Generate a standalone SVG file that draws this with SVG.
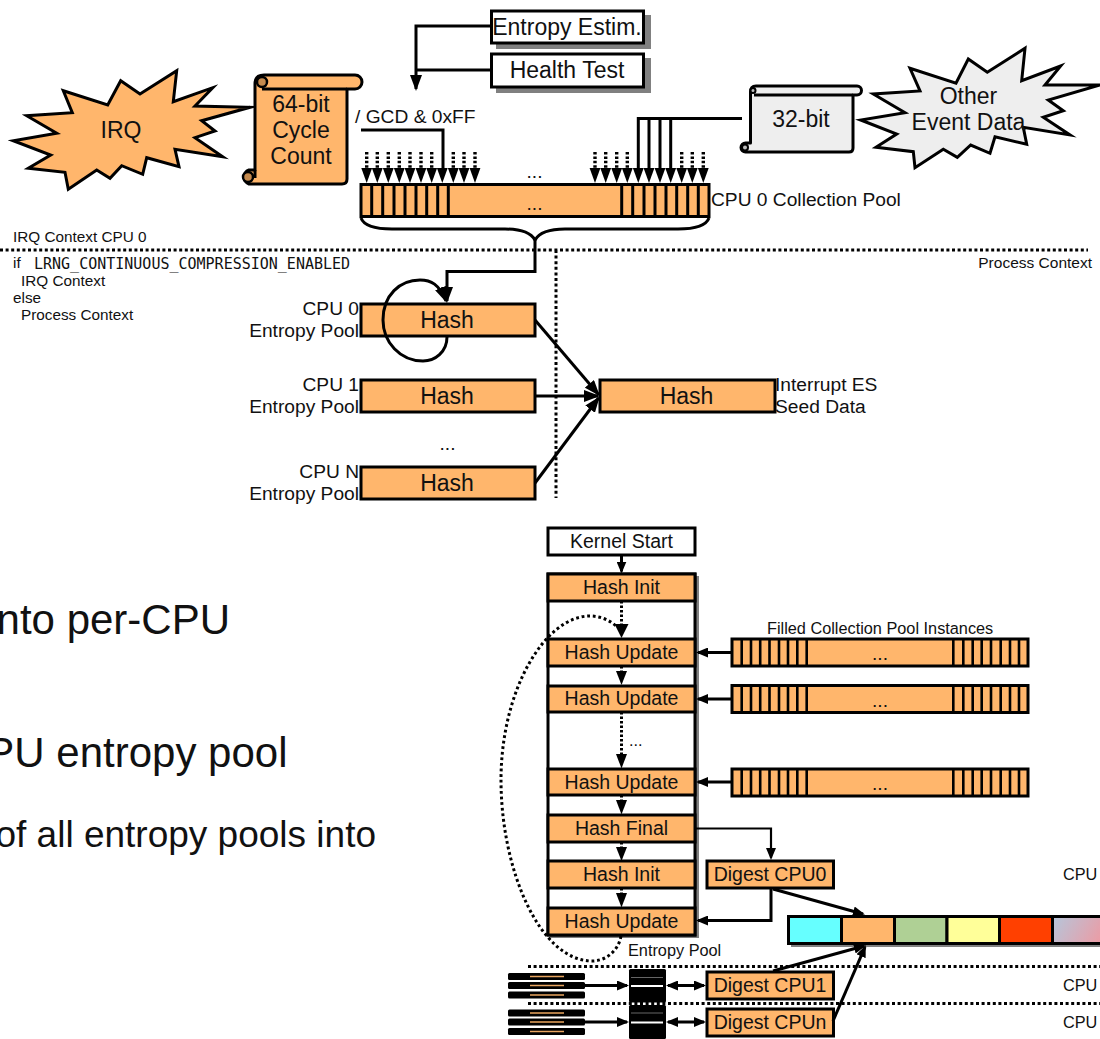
<svg xmlns="http://www.w3.org/2000/svg" xmlns:xlink="http://www.w3.org/1999/xlink" width="1100" height="1039" viewBox="0 0 1100 1039">
<style>
text{font-family:"Liberation Sans",Arial,sans-serif;fill:#111}
.c{text-anchor:middle}.r{text-anchor:end}
.s22{font-size:23px}.s19{font-size:19.200px}.s193{font-size:19.500px}.s16{font-size:16.300px}.s15{font-size:15.300px}
.mono{font-family:"DejaVu Sans Mono","Liberation Mono",monospace;font-size:15px}
.big{font-size:42px}
.o{fill:#ffb66c;stroke:#000;stroke-width:3}
.w{fill:#fff;stroke:#000;stroke-width:3}
.g{fill:#eee;stroke:#000;stroke-width:3;stroke-linejoin:round}
.star{stroke-linejoin:miter;stroke-miterlimit:10}
.sh{fill:#808080}
.l{fill:none;stroke:#000;stroke-width:3;stroke-linejoin:miter}
.l2{fill:none;stroke:#000;stroke-width:2.200}
.dot{fill:none;stroke:#000;stroke-width:3;stroke-dasharray:3 2.600}
.dsm{fill:none;stroke:#000;stroke-width:3.400;stroke-dasharray:2.500 1.900}
.chip{fill:#000}
.ol{stroke:#e9a55f;stroke-width:1.600}
</style>
<defs>
<marker id="a" markerUnits="userSpaceOnUse" markerWidth="12" markerHeight="10" refX="10" refY="5" orient="auto" viewBox="0 0 12 10"><path d="M0 0L12 5L0 10Z"/></marker>
<marker id="b" markerUnits="userSpaceOnUse" markerWidth="12" markerHeight="10" refX="10" refY="5" orient="auto-start-reverse" viewBox="0 0 12 10"><path d="M0 0L12 5L0 10Z"/></marker>
<marker id="ab" markerUnits="userSpaceOnUse" markerWidth="16" markerHeight="12" refX="14" refY="6" orient="auto" viewBox="0 0 16 12"><path d="M0 0L16 6L0 12Z"/></marker>
<polygon id="tri" points="-5.400,0 5.400,0 0,15"/>
<linearGradient id="grad" gradientUnits="userSpaceOnUse" x1="1052" y1="916" x2="1100" y2="944"><stop offset="0" stop-color="#b4c7dc"/><stop offset="1" stop-color="#ec9ba4"/></linearGradient>
<g id="strip">
<rect class="o" x="732" y="0" width="296" height="27"/>
<path class="l" style="stroke-width:2.600" d="M741.700 0v27M751 0v27M760.200 0v27M769.500 0v27M779 0v27M788 0v27M797.300 0v27M806.700 0v27M953.300 0v27M963.300 0v27M972.700 0v27M981.700 0v27M991 0v27M1000.700 0v27M1010 0v27M1019 0v27"/>
<text class="c s19" x="880" y="21">...</text>
</g>
<g id="chips">
<rect class="chip" x="508" y="0" width="77" height="7" rx="1.500"/><rect class="chip" x="508" y="9" width="77" height="7" rx="1.500"/><rect class="chip" x="508" y="18.500" width="77" height="7" rx="1.500"/>
<path class="ol" d="M530 3.500H564M530 12.500H564M530 22H564"/>
</g>
</defs>

<g id="big-text">
<text class="big r" x="230" y="634">nto per-CPU</text>
<text class="big r" x="287.500" y="767">PU entropy pool</text>
<text class="r" style="font-size:37px" x="376" y="847">of all entropy pools into</text>
</g>

<g id="context-labels">
<text class="s15" x="13" y="242">IRQ Context CPU 0</text>
<text class="s15" x="13" y="268">if</text>
<text class="mono" x="34" y="268.500">LRNG_CONTINUOUS_COMPRESSION_ENABLED</text>
<text class="s15" x="21" y="286">IRQ Context</text>
<text class="s15" x="13" y="303">else</text>
<text class="s15" x="21" y="320">Process Context</text>
<text class="s15 r" x="1092" y="268" style="font-size:15.500px">Process Context</text>
</g>

<g id="irq">
<polygon class="o star" points="176.700,70.700 173.300,101.700 212.700,87.700 195,106 250,107.300 201.700,120.700 215,131 195,137.700 222.700,156.700 175,149.300 179,166.700 146.700,157.700 142.700,174.300 121.700,165.700 110,178.300 96.700,170 68.300,189.300 65,172.300 28.300,168.300 50.700,155 13.300,140.700 56.700,133.300 26.700,115.700 72.300,112.700 63.300,90.700 107.700,105 120.700,80.700 140,94"/>
<text class="c s22" x="121" y="138">IRQ</text>
</g>
<g id="cycle-count">
<path class="o" stroke-linejoin="round" d="M264 75H355A7 7 0 0 1 355 89H347V179Q347 184 342 184H249A7.500 7.500 0 0 1 249 170H255V84Q255 75 264 75Z"/>
<path class="l" d="M262 89H347M255 170V178"/>
<circle cx="262" cy="82" r="5" fill="#c58a4e" stroke="#000" stroke-width="2.500"/>
<circle cx="248" cy="177" r="5" fill="#c58a4e" stroke="#000" stroke-width="2.500"/>
<text class="c s22" x="301" y="112">64-bit</text>
<text class="c s22" x="301" y="138">Cycle</text>
<text class="c s22" x="301" y="164">Count</text>
</g>
<g id="entropy-estim">
<rect class="sh" x="496" y="15" width="155" height="34"/>
<rect class="w" x="491.500" y="11" width="152" height="32"/>
<text class="c s22" x="567" y="35">Entropy Estim.</text>
</g>
<g id="health-test">
<rect class="sh" x="496" y="58" width="155" height="35"/>
<rect class="w" x="491.500" y="54" width="152" height="33"/>
<text class="c s22" x="567" y="78">Health Test</text>
</g>
<g id="bit32">
<path class="g" d="M756 86H857A4.500 4.500 0 0 1 857 95H853V148Q853 152 849 152H745.500A4.500 4.500 0 0 1 745.500 143H750.500V92Q750.500 86 756 86Z"/>
<path class="l" d="M754 95H853"/>
<circle cx="753" cy="90.500" r="2.500" fill="#bbb" stroke="#000" stroke-width="2"/>
<circle cx="745" cy="147.500" r="3" fill="#bbb" stroke="#000" stroke-width="2"/>
<text class="c s22" x="801" y="127">32-bit</text>
</g>
<g id="other-event">
<polygon class="g star" points="1025,48.300 1021.700,80.700 1060.700,66 1045,85 1100,85 1048.300,100 1063.300,110.700 1043.300,117.300 1070,135 1023.300,127.300 1026.700,144.300 995,136.700 990,153.300 970.700,145 957.300,157.300 943.300,149.300 915,167.700 913.300,151.700 876,147.300 896.700,134 860.700,120 905,112.700 873.300,94 920,91 910,68.300 956,83.300 968.300,59 987.300,72.300"/>
<text class="c s22" x="968.500" y="104">Other</text>
<text class="c s22" x="968.500" y="130">Event Data</text>
</g>
<g id="collection-pool">
<rect class="o" x="361" y="184.500" width="348" height="32"/>
<path class="l" d="M371.700 184v33M382.700 184v33M394 184v33M405 184v33M416 184v33M426.700 184v33M437.700 184v33M448.300 184v33M621.700 184v33M632.700 184v33M644 184v33M655 184v33M666 184v33M676.700 184v33M687.700 184v33M698.300 184v33"/>
<text class="c s19" x="534.500" y="210">...</text>
<text class="c s19" x="534.500" y="178">...</text>
<text class="s19" x="711" y="206">CPU 0 Collection Pool</text>
<text class="s19" x="355" y="123">/ GCD &amp; 0xFF</text>
</g>

<g id="cpu0-pool">
<rect class="o" x="361" y="304" width="174" height="32"/>
<text class="c s22" x="447" y="328">Hash</text>
<text class="s19 r" x="359" y="315">CPU 0</text>
<text class="s19 r" x="359" y="337">Entropy Pool</text>
</g>
<g id="cpu1-pool">
<rect class="o" x="361" y="380" width="174" height="32"/>
<text class="c s22" x="447" y="404">Hash</text>
<text class="s19 r" x="359" y="391">CPU 1</text>
<text class="s19 r" x="359" y="413">Entropy Pool</text>
</g>
<text class="c s19" x="447.500" y="450">...</text>
<g id="cpun-pool">
<rect class="o" x="361" y="467" width="174" height="32"/>
<text class="c s22" x="447" y="491">Hash</text>
<text class="s19 r" x="359" y="478">CPU N</text>
<text class="s19 r" x="359" y="500">Entropy Pool</text>
</g>
<g id="final-hash">
<rect class="o" x="600" y="380" width="175" height="32"/>
<text class="c s22" x="686.500" y="404">Hash</text>
<text class="s19" x="775" y="391">Interrupt ES</text>
<text class="s19" x="775" y="413">Seed Data</text>
</g>

<g id="kernel-start">
<rect class="w" x="548" y="528" width="147" height="27"/>
<text class="c s193" x="621.500" y="548">Kernel Start</text>
</g>
<g id="hash-stack">
<rect class="sh" x="550" y="576" width="149" height="362"/>
<rect class="w" x="548" y="574" width="147" height="361"/>
<rect class="o" x="548" y="574" width="147" height="27"/><text class="c s193" x="621.500" y="594">Hash Init</text>
<rect class="o" x="548" y="639" width="147" height="27"/><text class="c s193" x="621.500" y="659">Hash Update</text>
<rect class="o" x="548" y="686" width="147" height="26"/><text class="c s193" x="621.500" y="705">Hash Update</text>
<rect class="o" x="548" y="769" width="147" height="26"/><text class="c s193" x="621.500" y="789">Hash Update</text>
<rect class="o" x="548" y="815" width="147" height="27"/><text class="c s193" x="621.500" y="835">Hash Final</text>
<rect class="o" x="548" y="861" width="147" height="27"/><text class="c s193" x="621.500" y="881">Hash Init</text>
<rect class="o" x="548" y="908" width="147" height="27"/><text class="c s193" x="621.500" y="928">Hash Update</text>
<text class="s16" x="628" y="955.500">Entropy Pool</text>
<text class="s16" x="629" y="746">...</text>
</g>
<g id="filled-pools">
<text class="s16" x="767" y="633.500">Filled Collection Pool Instances</text>
<use xlink:href="#strip" href="#strip" y="639"/>
<use xlink:href="#strip" href="#strip" y="685.500"/>
<use xlink:href="#strip" href="#strip" y="769"/>
</g>
<g id="digest-cpu0">
<rect class="o" x="707" y="861" width="126.500" height="27"/>
<text class="c s193" x="770" y="881">Digest CPU0</text>
<text class="s16" x="1063" y="880">CPU</text>
</g>
<g id="digest-cpu1">
<rect class="o" x="707" y="972" width="126.500" height="27"/>
<text class="c s193" x="770" y="992">Digest CPU1</text>
<text class="s16" x="1063" y="991">CPU</text>
</g>
<g id="digest-cpun">
<rect class="o" x="707" y="1009" width="126.500" height="27"/>
<text class="c s193" x="770" y="1029">Digest CPUn</text>
<text class="s16" x="1063" y="1028">CPU</text>
</g>
<g id="output-bar">
<rect class="sh" x="791" y="919" width="320" height="28"/>
<rect x="788.500" y="916.500" width="53" height="27" fill="#66ffff" stroke="#000" stroke-width="3"/>
<rect x="841.500" y="916.500" width="53" height="27" fill="#ffb66c" stroke="#000" stroke-width="3"/>
<rect x="894.500" y="916.500" width="52.500" height="27" fill="#afd095" stroke="#000" stroke-width="3"/>
<rect x="947" y="916.500" width="52.500" height="27" fill="#ffff99" stroke="#000" stroke-width="3"/>
<rect x="999.500" y="916.500" width="53" height="27" fill="#ff4000" stroke="#000" stroke-width="3"/>
<rect x="1052.500" y="916.500" width="60" height="27" fill="url(#grad)" stroke="#000" stroke-width="3"/>
</g>
<g id="cpu1-chips"><use xlink:href="#chips" href="#chips" y="973"/></g>
<g id="cpun-chips"><use xlink:href="#chips" href="#chips" y="1009.500"/></g>
<g id="core-column">
<rect x="629" y="969" width="37" height="33.500" rx="1.500" fill="#000"/>
<rect x="629" y="1005" width="37" height="34" rx="1.500" fill="#000"/>
<path d="M631 977.500H663M631 1013H663" stroke="#666" stroke-width="1"/>
<path d="M631 986H663M631 1022.500H663" stroke="#fff" stroke-width="1.800"/>
</g>

<g id="connectors">
<path class="dot" d="M0 250H1088M556 250V498"/>
<path class="dot" d="M528 966.500H1100M528 1003.500H1100"/>
<path class="dsm" d="M366.700 152V168M377.300 152V168M388.300 152V168M399.300 152V168M410 152V168M421 152V168M431.700 152V168M453.300 152V168M464 152V168M475 152V168M595 152V168M605.700 152V168M616.700 152V168M627.300 152V168M681.700 152V168M692.300 152V168M703.300 152V168"/>
<path class="l" d="M361 130H443V168M742 118.500H638.300V168M649 118.500V168M660 118.500V168M670.700 118.500V168"/>
<g>
<use xlink:href="#tri" href="#tri" x="366.700" y="168"/><use xlink:href="#tri" href="#tri" x="377.300" y="168"/><use xlink:href="#tri" href="#tri" x="388.300" y="168"/><use xlink:href="#tri" href="#tri" x="399.300" y="168"/><use xlink:href="#tri" href="#tri" x="410" y="168"/><use xlink:href="#tri" href="#tri" x="421" y="168"/><use xlink:href="#tri" href="#tri" x="431.700" y="168"/><use xlink:href="#tri" href="#tri" x="442.300" y="168"/><use xlink:href="#tri" href="#tri" x="453.300" y="168"/><use xlink:href="#tri" href="#tri" x="464" y="168"/><use xlink:href="#tri" href="#tri" x="475" y="168"/>
<use xlink:href="#tri" href="#tri" x="595" y="168"/><use xlink:href="#tri" href="#tri" x="605.700" y="168"/><use xlink:href="#tri" href="#tri" x="616.700" y="168"/><use xlink:href="#tri" href="#tri" x="627.300" y="168"/><use xlink:href="#tri" href="#tri" x="638.300" y="168"/><use xlink:href="#tri" href="#tri" x="649" y="168"/><use xlink:href="#tri" href="#tri" x="660" y="168"/><use xlink:href="#tri" href="#tri" x="670.700" y="168"/><use xlink:href="#tri" href="#tri" x="681.700" y="168"/><use xlink:href="#tri" href="#tri" x="692.300" y="168"/><use xlink:href="#tri" href="#tri" x="703.300" y="168"/>
</g>
<path class="l" marker-end="url(#ab)" d="M491 26H416V89"/>
<path class="l" d="M491 70H416"/>
<path class="l" d="M361 218C364 226 376 229 392 229H505C522 229 531 233 535 240C539 233 548 229 565 229H678C694 229 706 226 709 218"/>
<path class="l" marker-end="url(#ab)" d="M535 240V271.500H447V301"/>
<path class="l" marker-end="url(#ab)" d="M447 337C447 352 435 361 423 361C400 361 383 342 383 320C383 295 400 280 420 280C431 280 439 284 446 301"/>
<path class="l" marker-end="url(#ab)" d="M535 320L598.500 394.500"/>
<path class="l" marker-end="url(#ab)" d="M535 396H598"/>
<path class="l" marker-end="url(#ab)" d="M535 483L598.500 398"/>
<path class="l" marker-end="url(#a)" d="M621.500 555V571.500"/>
<path class="dot" style="stroke-dasharray:2.500 2" d="M621.500 601V624"/>
<path d="M614.500 624H628.500L621.500 638Z"/>
<path class="dot" style="stroke-dasharray:2.500 2" d="M621.500 666V672"/><path d="M616 671H627L621.500 685Z"/>
<path class="dot" style="stroke-dasharray:2.500 2" d="M621.500 712V755"/><path d="M616 754H627L621.500 768.500Z"/>
<path class="dot" style="stroke-dasharray:2.500 2" d="M621.500 795V801"/><path d="M616 800H627L621.500 814.500Z"/>
<path class="dot" style="stroke-dasharray:2.500 2" d="M621.500 842V848"/><path d="M616 847H627L621.500 861Z"/>
<path class="dot" style="stroke-dasharray:2.500 2" d="M621.500 888V894"/><path d="M616 893H627L621.500 907.500Z"/>
<path class="dot" style="stroke-dasharray:2.800 2.800" d="M621 936C618 952 605 961 592 961C540 961 501 870 501 780C501 690 545 616 590 616C600 616 610 620 617 627"/>
<path class="l" marker-end="url(#a)" d="M732 652.500H698"/>
<path class="l" marker-end="url(#a)" d="M732 699H698"/>
<path class="l" marker-end="url(#a)" d="M732 782H698"/>
<path class="l2" marker-end="url(#a)" d="M696 828.500H771V858"/>
<path class="l" marker-end="url(#a)" d="M771 888V920.500H698"/>
<path class="l" marker-end="url(#a)" d="M773 889L863 914"/>
<path class="l" marker-end="url(#a)" d="M773 971L864 946"/>
<path class="l" marker-end="url(#a)" d="M833 1021L865 947"/>
<path class="l" marker-end="url(#a)" d="M585 985.500H627"/>
<path class="l" marker-end="url(#a)" d="M585 1022H627"/>
<path class="l" marker-start="url(#b)" marker-end="url(#b)" d="M668 985.500H704"/>
<path class="l" marker-start="url(#b)" marker-end="url(#b)" d="M668 1022H704"/>
</g>
</svg>
